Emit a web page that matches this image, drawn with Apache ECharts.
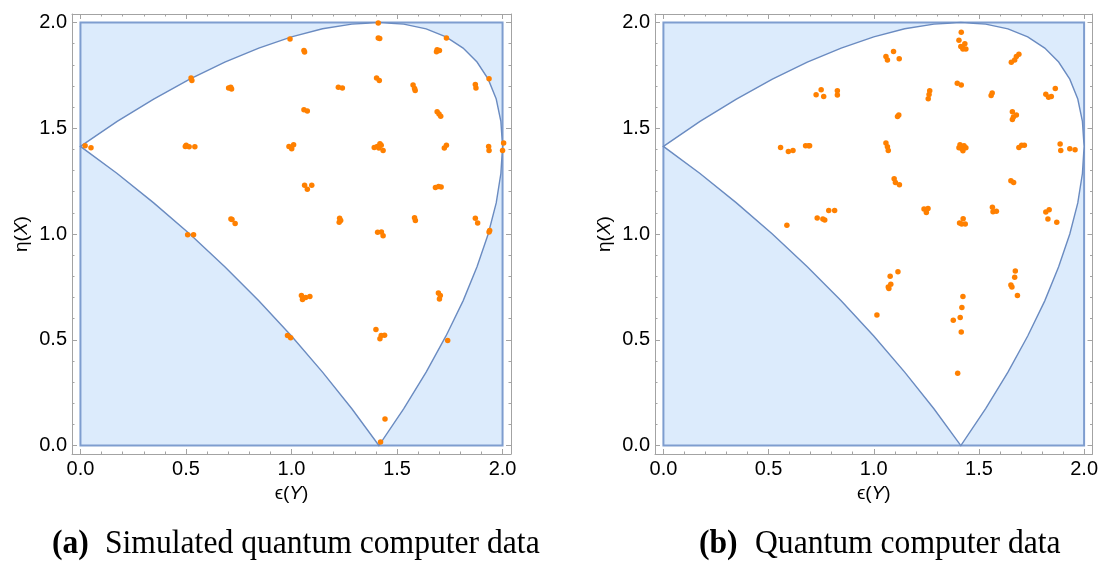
<!DOCTYPE html>
<html>
<head>
<meta charset="utf-8">
<script src="https://cdn.jsdelivr.net/npm/echarts@6/dist/echarts.min.js"></script>
<style>
  html, body { margin: 0; padding: 0; background: #fff; }
  #chart { width: 1101px; height: 571px; }
</style>
</head>
<body>
<div id="chart"></div>
<script>
// tick values (major labelled, minor every 0.1)
const tickValues = [0, 0.5, 1, 1.5, 2];
const minorTickValues = [0.1, 0.2, 0.3, 0.4, 0.6, 0.7, 0.8, 0.9, 1.1, 1.2, 1.3, 1.4, 1.6, 1.7, 1.8, 1.9];

// square region and the boundary of the allowed (white) region
const regionX = [0, 2];
const regionY = [0, 2];
const boundaryX = [0, 0.174, 0.347, 0.518, 0.684, 0.845, 1.0, 1.147, 1.286, 1.414, 1.532, 1.638, 1.732, 1.813, 1.879, 1.932, 1.970, 1.992, 2.0];
const boundaryUpper = [1.414, 1.532, 1.638, 1.732, 1.813, 1.879, 1.932, 1.970, 1.992, 2.0, 1.992, 1.970, 1.932, 1.879, 1.813, 1.732, 1.638, 1.532, 1.414];
const boundaryLower = [1.414, 1.286, 1.147, 1.0, 0.845, 0.684, 0.518, 0.347, 0.174, 0, 0.174, 0.347, 0.518, 0.684, 0.845, 1.0, 1.147, 1.286, 1.414];

// (a) simulated quantum computer data
const simX = [0.022, 0.050, 0.524, 0.528, 0.702, 0.712, 0.716, 0.497, 0.501, 0.515, 0.542, 0.713, 0.718, 0.733, 0.508, 0.536,
  1.411, 1.411, 1.418, 0.993, 1.734, 1.059, 1.062, 1.690, 1.701, 1.687, 1.936, 1.403, 1.416, 1.222, 1.241, 1.576, 1.583, 1.586,
  1.871, 1.874, 1.059, 1.075, 1.690, 1.699, 1.707, 0.988, 1.001, 1.010, 1.392, 1.406, 1.419, 1.425, 1.434, 1.414, 1.724, 1.734,
  1.934, 1.936, 2.005, 2.000, 1.062, 1.075, 1.096, 1.682, 1.697, 1.709, 1.228, 1.233, 1.226, 1.583, 1.587, 1.871, 1.882, 1.936,
  1.939, 1.408, 1.426, 1.434, 1.047, 1.052, 1.067, 1.087, 1.696, 1.701, 1.705, 0.981, 0.996, 1.400, 1.419, 1.425, 1.441, 1.740,
  1.443, 1.422];
const simY = [1.417, 1.408, 1.737, 1.726, 1.690, 1.694, 1.685, 1.414, 1.420, 1.412, 1.412, 1.071, 1.068, 1.050, 0.997, 0.997,
  1.997, 1.926, 1.924, 1.922, 1.926, 1.867, 1.860, 1.871, 1.867, 1.861, 1.734, 1.737, 1.726, 1.694, 1.690, 1.704, 1.688, 1.678,
  1.707, 1.690, 1.587, 1.582, 1.578, 1.567, 1.557, 1.414, 1.403, 1.422, 1.409, 1.414, 1.427, 1.419, 1.395, 1.406, 1.406, 1.419,
  1.414, 1.395, 1.430, 1.395, 1.230, 1.211, 1.230, 1.220, 1.225, 1.222, 1.075, 1.064, 1.055, 1.077, 1.064, 1.075, 1.052, 1.009,
  1.017, 1.008, 1.009, 0.992, 0.709, 0.690, 0.700, 0.705, 0.721, 0.693, 0.709, 0.520, 0.509, 0.548, 0.505, 0.520, 0.521, 0.497,
  0.126, 0.017];

// (b) quantum computer data
const qcX = [0.557, 0.594, 0.616, 0.676, 0.690, 0.695, 0.726, 0.750, 0.762, 0.827, 0.827, 0.587, 0.731, 0.758, 0.767, 0.786, 0.814,
  1.416, 1.405, 1.433, 1.414, 1.424, 1.438, 1.421, 1.058, 1.065, 1.094, 1.121, 1.654, 1.670, 1.678, 1.690, 1.397, 1.416,
  1.266, 1.263, 1.259, 1.563, 1.558, 1.818, 1.831, 1.844, 1.863, 1.113, 1.119, 1.659, 1.659, 1.678, 1.664, 1.058, 1.065, 1.069,
  1.410, 1.429, 1.419, 1.438, 1.405, 1.424, 1.690, 1.703, 1.716, 1.886, 1.889, 1.932, 1.957, 1.097, 1.103, 1.122, 1.652, 1.665,
  1.239, 1.250, 1.258, 1.564, 1.567, 1.583, 1.818, 1.834, 1.828, 1.870, 1.408, 1.425, 1.435, 1.418, 1.015, 1.078, 1.115, 1.081,
  1.069, 1.072, 1.424, 1.419, 1.411, 1.378, 1.416, 1.399, 1.673, 1.670, 1.652, 1.657, 1.683];
const qcY = [1.409, 1.390, 1.395, 1.417, 1.417, 1.417, 1.658, 1.682, 1.650, 1.677, 1.657, 1.041, 1.076, 1.071, 1.066, 1.111, 1.111,
  1.954, 1.916, 1.899, 1.886, 1.875, 1.875, 1.883, 1.839, 1.823, 1.863, 1.829, 1.812, 1.823, 1.839, 1.850, 1.713, 1.704,
  1.677, 1.659, 1.639, 1.666, 1.655, 1.661, 1.647, 1.650, 1.688, 1.556, 1.562, 1.578, 1.541, 1.562, 1.553, 1.430, 1.412, 1.395,
  1.422, 1.417, 1.403, 1.408, 1.408, 1.393, 1.409, 1.420, 1.420, 1.425, 1.395, 1.403, 1.398, 1.261, 1.244, 1.233, 1.252, 1.244,
  1.118, 1.102, 1.120, 1.126, 1.105, 1.107, 1.104, 1.115, 1.071, 1.055, 1.052, 1.072, 1.047, 1.047, 0.617, 0.800, 0.821, 0.762,
  0.750, 0.742, 0.705, 0.653, 0.605, 0.592, 0.537, 0.342, 0.825, 0.795, 0.759, 0.750, 0.709];

const frameColor = "#a3a3a3";
const labelFont = "'Liberation Sans', 'DejaVu Sans', sans-serif";
const captionFont = "'Liberation Serif', serif";
const axisMin = -0.04;
const axisMax = 2.04;

// one frame side = a labelled/major axis plus an overlay for the minor ticks
function frameSide(gridIndex, position, withLabels, name) {
  const isX = position === "bottom" || position === "top";
  const base = {
    type: "value",
    gridIndex: gridIndex,
    position: position,
    min: axisMin,
    max: axisMax,
    splitLine: { show: false },
  };
  const major = Object.assign({}, base, {
    axisLine: { show: true, onZero: false, lineStyle: { color: frameColor, width: 1 } },
    axisTick: { show: true, inside: true, length: 5, customValues: tickValues, lineStyle: { color: frameColor } },
    axisLabel: {
      show: withLabels,
      customValues: tickValues,
      formatter: (v) => v.toFixed(1),
      color: "#000",
      fontSize: 20,
      fontFamily: labelFont,
      margin: 5,
    },
  });
  if (name) {
    Object.assign(major, {
      name: name,
      nameLocation: "middle",
      nameGap: isX ? 28 : 41,
      nameTextStyle: {
        color: "#000",
        fontSize: 19,
        fontFamily: labelFont,
        rich: { i: { fontStyle: "italic", fontSize: 19, fontFamily: labelFont, color: "#000" } },
      },
    });
  }
  const minor = Object.assign({}, base, {
    axisLine: { show: false, onZero: false },
    axisTick: { show: true, inside: true, length: 2.5, customValues: minorTickValues, lineStyle: { color: frameColor } },
    axisLabel: { show: false },
  });
  return [major, minor];
}

function regionItem(params, api) {
  if (params.dataIndex !== 0) return;
  const c0 = api.coord([regionX[0], regionY[0]]);
  const c1 = api.coord([regionX[1], regionY[1]]);
  const pts = [];
  for (let i = 0; i < boundaryX.length; i++) pts.push(api.coord([boundaryX[i], boundaryUpper[i]]));
  for (let i = boundaryX.length - 1; i >= 0; i--) pts.push(api.coord([boundaryX[i], boundaryLower[i]]));
  return {
    type: "group",
    children: [
      {
        type: "rect",
        shape: { x: c0[0], y: c1[1], width: c1[0] - c0[0], height: c0[1] - c1[1] },
        style: { fill: "#dcebfc", stroke: "#7e9dcf", lineWidth: 2 },
      },
      {
        type: "polygon",
        shape: { points: pts },
        style: { fill: "#ffffff", stroke: "#6a8bc1", lineWidth: 1.4 },
      },
    ],
  };
}

function caption(x, text, bold) {
  return {
    type: "text", x: x, y: 544, scaleX: 0.93,
    style: {
      text: text, fontSize: 34, fontWeight: bold ? "bold" : "normal",
      fontFamily: captionFont, fill: "#000", verticalAlign: "middle",
    },
  };
}

const xAxes = [];
const yAxes = [];
// panel (a): x axes 0-3, y axes 0-3; panel (b): x axes 4-7, y axes 4-7
[0, 1].forEach((g) => {
  xAxes.push(...frameSide(g, "bottom", true, "ϵ({i|Y})"));
  xAxes.push(...frameSide(g, "top", false));
  yAxes.push(...frameSide(g, "left", true, "η({i|X})"));
  yAxes.push(...frameSide(g, "right", false));
});

const option = {
  backgroundColor: "#fff",
  animation: false,
  grid: [
    { left: 72, top: 14, width: 439, height: 440 },
    { left: 655, top: 14, width: 438, height: 440 },
  ],
  xAxis: xAxes,
  yAxis: yAxes,
  series: [
    { type: "custom", xAxisIndex: 0, yAxisIndex: 0, renderItem: regionItem, data: [[regionX[0], regionY[0]]], z: 1, silent: true },
    { type: "custom", xAxisIndex: 4, yAxisIndex: 4, renderItem: regionItem, data: [[regionX[0], regionY[0]]], z: 1, silent: true },
    {
      type: "scatter", xAxisIndex: 0, yAxisIndex: 0, z: 3,
      symbolSize: 5.5, itemStyle: { color: "#ff8000", opacity: 1 },
      data: simX.map((x, i) => [x, simY[i]]),
    },
    {
      type: "scatter", xAxisIndex: 4, yAxisIndex: 4, z: 3,
      symbolSize: 5.5, itemStyle: { color: "#ff8000", opacity: 1 },
      data: qcX.map((x, i) => [x, qcY[i]]),
    },
  ],
  graphic: [
    caption(52, "(a)", true),
    caption(105, "Simulated quantum computer data", false),
    caption(699, "(b)", true),
    caption(755, "Quantum computer data", false),
  ],
};

const chart = echarts.init(document.getElementById("chart"));
chart.setOption(option);
</script>
</body>
</html>
